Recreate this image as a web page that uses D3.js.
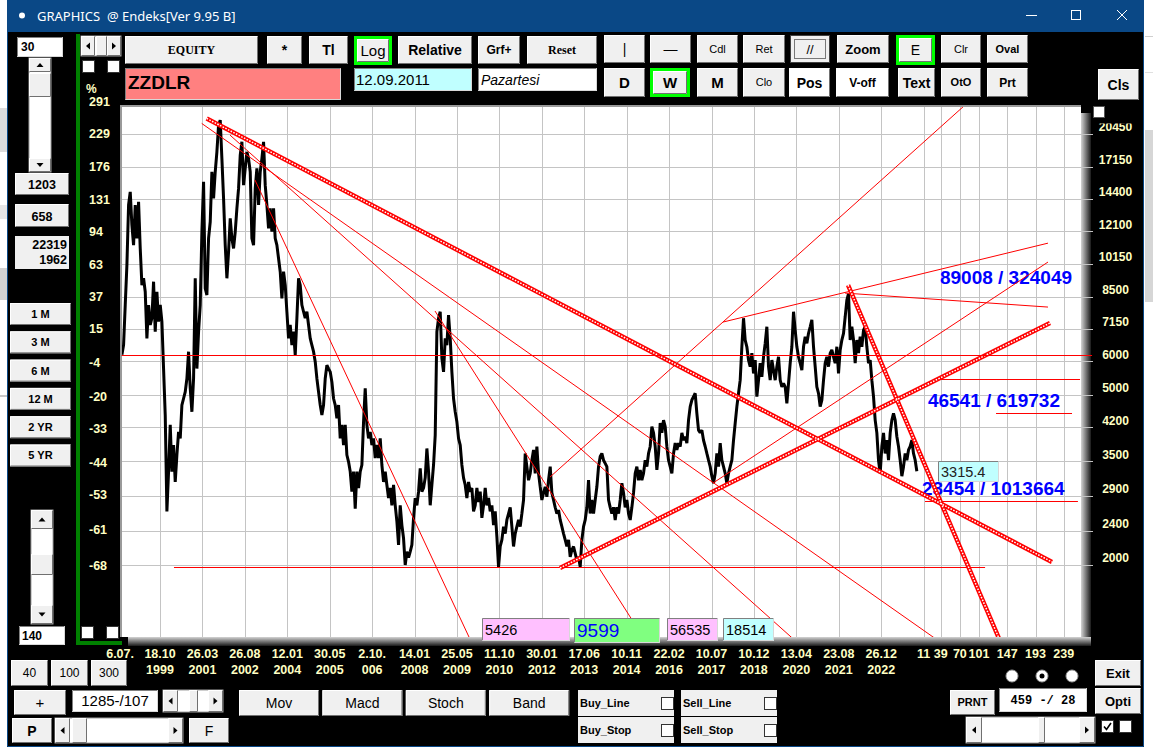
<!DOCTYPE html>
<html>
<head>
<meta charset="utf-8">
<title>ZZDLR</title>
<script src="https://cdn.jsdelivr.net/npm/d3@7/dist/d3.min.js"></script>
<style>
  html, body { margin: 0; padding: 0; background: #fff; overflow: hidden; }
  svg { display: block; }
</style>
</head>
<body>
<div id="chart"></div>
<script>
// values
const symbol = 'ZZDLR';
const basePrice = 6220; // 0 % of the relative axis
const priceTicks = [20450, 17150, 14400, 12100, 10150, 8500, 7150, 6000, 5000, 4200, 3500, 2900, 2400, 2000];
const pctTicks = [291, 229, 176, 131, 94, 63, 37, 15, -4, -20, -33, -44, -53, -61, -68];
const dateDays = ['6.07.', '18.10', '26.03', '26.08', '12.01', '30.05', '2.10.', '14.01', '25.05', '11.10',
  '30.01', '17.06', '10.11', '22.02', '10.07', '10.12', '13.04', '23.08', '26.12'];
const dateYears = ['', '1999', '2001', '2002', '2004', '2005', '006', '2008', '2009', '2010',
  '2012', '2013', '2014', '2016', '2017', '2018', '2020', '2021', '2022'];
const barsPerLabel = 69;
const futureBars = [11, 39, 70, 101, 147, 193, 239];
const firstBar = 7, lastBar = 1300;
const closeSamples = [
  6220, 6550, 8130, 10080, 13940, 14970, 12510, 11230, 13940, 11640, 14190, 11030, 9050, 9390, 8730, 6790,
  8130, 7300, 7570, 9220, 7040, 8730, 7430, 8130, 7430, 5770, 4490, 2670, 3310, 4260, 3310, 3820,
  3130, 3620, 4100, 3960, 4740, 4910, 5090, 5470, 6320, 5190, 4570, 5470, 9390, 5770, 7040, 8130,
  12070, 15810, 8890, 8580, 11640, 12740, 16680, 14450, 16680, 18580, 21450, 22040, 17910, 14450, 11230, 9390,
  10830, 12970, 11640, 11030, 12070, 13690, 15250, 18250, 19610, 15520, 16990, 18580, 17910, 16680, 11640, 11230,
  15250, 16990, 13940, 16680, 17910, 19610, 15520, 13940, 12290, 13690, 12070, 13690, 11640, 11230, 10450, 9730,
  8420, 9730, 9050, 7840, 6790, 7300, 6550, 7040, 6210, 7570, 9390, 9050, 8130, 7840, 7570, 7840,
  7300, 6790, 6550, 6320, 5990, 5470, 5090, 4740, 4490, 4740, 5470, 5880, 5770, 5670, 5370, 4910,
  4740, 4410, 4740, 3960, 4260, 3820, 4260, 3620, 3490, 3310, 2970, 3310, 2710, 3310, 3030, 3310,
  3430, 4330, 5190, 4260, 3960, 4100, 3820, 3960, 3560, 3820, 3560, 3960, 3430, 3130, 3310, 3080,
  2870, 3030, 2760, 3080, 2760, 2530, 2230, 2760, 2480, 2310, 2000, 2150, 2080, 2150, 2230, 2580,
  2870, 2760, 2970, 3370, 2970, 3030, 3200, 3750, 3310, 2760, 3080, 3430, 4030, 7040, 7570, 7840,
  6100, 5670, 6790, 6550, 7700, 6790, 5670, 4910, 4570, 4330, 3960, 3820, 3430, 3200, 3080, 2870,
  3130, 2970, 3030, 2670, 2760, 3030, 2810, 2970, 2580, 2760, 3030, 2760, 2870, 2670, 2760, 2480,
  2670,
  2330, 1980, 2210, 2290, 2460, 2370, 2550, 2640, 2730, 2460, 2210, 2370, 2460, 2550, 2460, 2640,
  2840, 3650, 3400, 3160, 3280, 3520, 3720, 3280, 3790, 3280, 3050, 2840, 2950, 3050, 2890, 3160,
  3400, 2950, 2840, 2730, 2640, 2690, 2550, 2460, 2370, 2290, 2210, 2290, 2090, 2170, 2210, 2130,
  2050, 2090, 1980, 2290, 2460, 2550, 2730, 3160, 2640, 2840, 2640, 2840, 3050, 3400, 3590, 3650,
  3520, 3460, 3400, 2840, 2730, 2640, 2730, 2550, 2730, 2640, 2840, 3110, 2950, 2730, 2840, 2640,
  2550, 2730, 2950, 3280, 3400, 3160, 3340, 3160, 3280, 3520, 3400, 3650, 3790, 4220, 4080, 3790,
  3340, 3650, 4300, 4080, 4370, 4220, 3790, 3520, 3400, 3280, 3650, 3860, 3720, 3860, 3790, 4080,
  3920, 4000, 3860, 4370, 4700, 4870, 4960, 5050, 4530, 4140, 4080, 4140, 3920, 3790, 3650, 3520,
  3400, 3230, 3110, 3280, 3650, 3400, 3860, 3520, 3400, 3280, 3110, 3280, 3400, 3520, 3920, 4300,
  4700, 5050, 5420, 6490, 7570, 6730, 6490, 6040, 5830, 6270, 5620, 6040, 4960, 5420, 5940, 5520,
  6150, 6610, 7230, 5830, 5420, 6040, 5720, 5420, 5830, 6150, 5420, 5230, 5330, 5230, 4780, 5330,
  5940, 6490, 7840, 7100, 6490, 6150, 5940, 5720, 6490, 6850, 6610, 6980, 7230, 7500, 6490, 5830,
  5230, 5050, 4700, 4870, 5420, 5940, 6150, 5830, 6270, 6380, 6150, 5940, 6490, 5620, 6380, 6730,
  6980, 7630, 8350, 8650, 6730, 7230, 6730, 5940, 6730, 6270, 6850, 6490, 7100, 7230, 6490, 5940,
  6040, 5420, 4960, 4370, 4080, 3520, 3280, 3790, 4080, 3650, 3920, 3520, 4080, 4370, 4530, 4370,
  4000, 3790, 3520, 3230, 3400, 3650, 3520, 3720, 3790, 3920, 3650, 3520, 3315
];
// [fromBar, fromPrice, toBar, toPrice]
const thinLines = [
  [136.8, 21650, 1337.7, 1321],
  [182.8, 20330, 1110, 1299],
  [223.5, 15950, 571.6, 1356],
  [516.3, 7870, 854.6, 1356],
  [703.3, 3214, 1378.3, 23900],
  [968.5, 3112, 1513.3, 10250],
  [984.8, 7416, 1513.3, 11350],
  [1183.2, 8670, 1513.3, 8040]
];
const doubleLines = [
  [144.9, 22240, 1519.8, 2033],
  [1188.1, 9050, 1435.4, 1327],
  [719.6, 1968, 1516.6, 7376]
];
// [fromBar, toBar, price]
const levelLines = [
  [0, 1585, basePrice],
  [91.7, 1411, 1980],
  [1329.5, 1565.4, 5440],
  [1428.8, 1552.4, 4530],
  [1313.3, 1562, 2830]
];
// [bar, price, text]
const notes = [
  [1337.6, 9100, '89008 / 324049'],
  [1318, 4690, '46541 / 619732'],
  [1308.3, 2918, '23454 / 1013664']
];
const infoValues = ['5426', '9599', '56535', '18514'];
const lastValue = '3315.4';

const W = 1153, H = 755;
const SANS = 'Liberation Sans, Arial, sans-serif';
const SERIF = 'Liberation Serif, Times New Roman, serif';
const CREAM = '#ffffc4';

const svg = d3.select('#chart').append('svg').attr('width', W).attr('height', H);
const defs = svg.append('defs');

// scales
const x = d3.scaleLinear().domain([0, 1567]).range([117.6, 1081]);
const y = d3.scaleLog().domain([2000, 20450]).range([565, 134]);
const plot = { left: 122, top: 107, right: 1081, bottom: 637 };

// desktop behind the window
svg.append('rect').attr('width', W).attr('height', H).attr('fill', '#ffffff');
[[0, 108, 7, 44, '#dcdcdc'], [0, 205, 7, 14, '#e6e6e6'], [0, 268, 7, 32, '#d2d2d2'], [0, 395, 7, 2, '#c8c8c8'],
 [1145, 130, 8, 172, '#d6d6d6'], [1145, 36, 8, 1, '#cfcfcf'], [1145, 72, 8, 1, '#e0e0e0']]
  .forEach(r => svg.append('rect').attr('x', r[0]).attr('y', r[1]).attr('width', r[2]).attr('height', r[3]).attr('fill', r[4]));

// window
svg.append('rect').attr('x', 7).attr('y', 0).attr('width', 1137).attr('height', 32).attr('fill', '#0a4886');
svg.append('rect').attr('x', 7).attr('y', 32).attr('width', 1137).attr('height', 715).attr('fill', '#000');
svg.append('path').attr('d', 'M7.5,32V746.5H1143.5V32').attr('fill', 'none').attr('stroke', '#0a4886');
svg.append('circle').attr('cx', 22).attr('cy', 15.5).attr('r', 3).attr('fill', '#fff');
svg.append('text').attr('x', 37).attr('y', 21).attr('font-family', 'Noto Sans, DejaVu Sans, sans-serif')
  .attr('font-size', 13).attr('fill', '#fff').text('GRAPHICS\u00a0\u00a0@ Endeks[Ver 9.95 B]');
svg.append('path').attr('d', 'M1026,15.5H1037').attr('stroke', '#fff');
svg.append('rect').attr('x', 1071.5).attr('y', 10.5).attr('width', 9).attr('height', 9).attr('fill', 'none').attr('stroke', '#fff');
svg.append('path').attr('d', 'M1117,10L1127,20M1127,10L1117,20').attr('stroke', '#fff');

let ui = svg.append('g');

function rect(x0, y0, w, h, fill, stroke) {
  const r = ui.append('rect').attr('x', x0).attr('y', y0).attr('width', w).attr('height', h).attr('fill', fill);
  if (stroke) r.attr('stroke', stroke);
  return r;
}
function txt(x0, y0, s, o = {}) {
  return ui.append('text').attr('x', x0).attr('y', y0)
    .attr('text-anchor', o.anchor || 'middle')
    .attr('font-family', o.family || SANS)
    .attr('font-size', o.size || 12)
    .attr('font-weight', o.weight || 'normal')
    .attr('font-style', o.style || 'normal')
    .attr('fill', o.color || '#000')
    .text(s);
}
function raised(x0, y0, w, h, fill) {
  rect(x0, y0, w, h, fill || '#f0f0f0');
  ui.append('path').attr('d', `M${x0 + .5},${y0 + h - 1}V${y0 + .5}H${x0 + w - 1}`).attr('fill', 'none').attr('stroke', '#fff');
  ui.append('path').attr('d', `M${x0 + .5},${y0 + h - .5}H${x0 + w - .5}V${y0 + .5}`).attr('fill', 'none').attr('stroke', '#707070');
}
function sunken(x0, y0, w, h, fill) {
  rect(x0, y0, w, h, fill);
  ui.append('path').attr('d', `M${x0 + .5},${y0 + h - .5}V${y0 + .5}H${x0 + w - .5}`).attr('fill', 'none').attr('stroke', '#808080');
  ui.append('path').attr('d', `M${x0 + .5},${y0 + h - .5}H${x0 + w - .5}V${y0 + .5}`).attr('fill', 'none').attr('stroke', '#d8d8d8');
}
function button(x0, y0, w, h, s, o = {}) {
  if (o.green) {
    rect(x0, y0, w, h, '#00ff00');
    raised(x0 + 3, y0 + 3, w - 6, h - 6, o.fill);
  } else raised(x0, y0, w, h, o.fill);
  const size = o.size || 12;
  txt(x0 + w / 2, y0 + h / 2 + size * 0.36, s, o);
}
function checkbox(x0, y0, on) {
  rect(x0 + .5, y0 + .5, 12, 12, '#fff', '#333');
  if (on) ui.append('path').attr('d', `M${x0 + 3},${y0 + 6.5}l2.5,3l4.5,-6.5`)
    .attr('fill', 'none').attr('stroke', '#000').attr('stroke-width', 1.6);
}
function tri(cx, cy, dir) {
  const d = {
    up: `M${cx - 3.5},${cy + 2}H${cx + 3.5}L${cx},${cy - 2}Z`,
    down: `M${cx - 3.5},${cy - 2}H${cx + 3.5}L${cx},${cy + 2}Z`,
    left: `M${cx + 2},${cy - 3.5}V${cy + 3.5}L${cx - 2},${cy}Z`,
    right: `M${cx - 2},${cy - 3.5}V${cy + 3.5}L${cx + 2},${cy}Z`
  }[dir];
  ui.append('path').attr('d', d).attr('fill', '#000');
}
function vscroll(x0, y0, w, h, btn, ty, th) {
  rect(x0, y0, w, h, '#fff', '#a0a0a0');
  raised(x0, y0, w, btn); tri(x0 + w / 2, y0 + btn / 2, 'up');
  raised(x0, ty, w, th);
  raised(x0, y0 + h - btn, w, btn); tri(x0 + w / 2, y0 + h - btn / 2, 'down');
}
function hscroll(x0, y0, w, h, btn, tx, tw) {
  rect(x0, y0, w, h, '#fff', '#a0a0a0');
  raised(x0, y0, btn, h); tri(x0 + btn / 2, y0 + h / 2, 'left');
  raised(tx, y0, tw, h);
  raised(x0 + w - btn, y0, btn, h); tri(x0 + w - btn / 2, y0 + h / 2, 'right');
}

// ---- top toolbar ----
hscroll(81, 36, 40, 20, 14, 96, 11);
checkbox(82, 60, false);
checkbox(107, 60, false);
button(125, 36, 133, 28, 'EQUITY', { family: SERIF, weight: 'bold', size: 12 });
button(267, 36, 35, 28, '*', { weight: 'bold', size: 14 });
button(309, 36, 39, 28, 'Tl', { weight: 'bold', size: 14 });
button(354, 36, 38, 29, 'Log', { green: true, size: 15 });
button(398, 36, 74, 28, 'Relative', { weight: 'bold', size: 14 });
button(478, 36, 42, 28, 'Grf+', { weight: 'bold', size: 12 });
button(527, 36, 70, 28, 'Reset', { family: SERIF, weight: 'bold', size: 12 });
button(604, 35, 41, 28, '|', { size: 14 });
button(650, 35, 41, 28, '\u2014', { size: 14 });
button(697, 35, 41, 28, 'Cdl', { size: 11 });
button(743, 35, 42, 28, 'Ret', { size: 11 });
button(790, 35, 40, 28, '//', { size: 13 });
ui.append('rect').attr('x', 790.5).attr('y', 35.5).attr('width', 39).attr('height', 27).attr('fill', 'none').attr('stroke', '#404040');
ui.append('rect').attr('x', 794.5).attr('y', 39.5).attr('width', 31).attr('height', 19).attr('fill', 'none')
  .attr('stroke', '#000').attr('stroke-dasharray', '1,1');
button(837, 35, 52, 28, 'Zoom', { weight: 'bold', size: 13 });
button(896, 35, 39, 30, 'E', { green: true, size: 14 });
button(941, 35, 40, 28, 'Clr', { size: 11 });
button(987, 35, 41, 28, 'Oval', { weight: 'bold', size: 11 });

sunken(125, 68, 216, 32, '#ff8080');
txt(128, 89, symbol, { anchor: 'start', weight: 'bold', size: 19 });
sunken(354, 68, 118, 23, '#c0ffff');
txt(356, 85, '12.09.2011', { anchor: 'start', size: 15 });
sunken(478, 68, 119, 23, '#ffffff');
txt(481, 85, 'Pazartesi', { anchor: 'start', style: 'italic', size: 14 });
button(604, 68, 41, 29, 'D', { weight: 'bold', size: 15 });
button(650, 68, 40, 29, 'W', { green: true, weight: 'bold', size: 15 });
button(697, 68, 41, 29, 'M', { weight: 'bold', size: 15 });
button(743, 68, 42, 29, 'Clo', { size: 11 });
button(789, 68, 41, 29, 'Pos', { fill: '#ffffff', weight: 'bold', size: 14 });
button(836, 68, 53, 29, 'V-off', { fill: '#ffffff', weight: 'bold', size: 12 });
button(898, 68, 37, 29, 'Text', { weight: 'bold', size: 14 });
button(941, 68, 40, 29, 'OtO', { weight: 'bold', size: 11 });
button(987, 68, 41, 29, 'Prt', { weight: 'bold', size: 12 });
button(1098, 69, 41, 31, 'Cls', { weight: 'bold', size: 14 });

// ---- left panel ----
sunken(17, 37, 46, 20, '#ffffff');
txt(21, 51, '30', { anchor: 'start', weight: 'bold', size: 12 });
vscroll(29, 58, 22, 114, 14, 73, 24);
raised(15, 173, 54, 22);
txt(42, 189, '1203', { weight: 'bold', size: 12.5 });
raised(15, 204, 54, 23);
txt(42, 221, '658', { weight: 'bold', size: 12.5 });
rect(15, 236, 54, 33, '#f0f0f0');
txt(67, 249, '22319', { anchor: 'end', weight: 'bold', size: 12.5 });
txt(67, 264, '1962', { anchor: 'end', weight: 'bold', size: 12.5 });
['1 M', '3 M', '6 M', '12 M', '2 YR', '5 YR'].forEach((s, i) =>
  button(10, 303 + i * 28.3, 61, 22, s, { weight: 'bold', size: 11 }));
vscroll(31, 510, 22, 114, 19, 554, 21);
sunken(19, 626, 46, 19, '#ffffff');
txt(22, 640, '140', { anchor: 'start', weight: 'bold', size: 12 });

// green frame
rect(76, 34, 4, 611, '#008000');
rect(76, 641, 46, 4, '#008000');
checkbox(81, 626, false);
checkbox(106, 626, false);

// ---- plot frame ----
const grR = defs.append('linearGradient').attr('id', 'shR').attr('x1', 0).attr('x2', 1).attr('y1', 0).attr('y2', 0);
grR.append('stop').attr('offset', 0).attr('stop-color', '#d4d4d4');
grR.append('stop').attr('offset', 1).attr('stop-color', '#1a1a1a');
const grB = defs.append('linearGradient').attr('id', 'shB').attr('x1', 0).attr('x2', 0).attr('y1', 0).attr('y2', 1);
grB.append('stop').attr('offset', 0).attr('stop-color', '#d4d4d4');
grB.append('stop').attr('offset', 1).attr('stop-color', '#1a1a1a');
svg.append('rect').attr('x', plot.right).attr('y', 113).attr('width', 10).attr('height', 533).attr('fill', 'url(#shR)');
svg.append('rect').attr('x', 128).attr('y', plot.bottom).attr('width', 963).attr('height', 9).attr('fill', 'url(#shB)');
svg.append('rect').attr('x', plot.left).attr('y', plot.top).attr('width', plot.right - plot.left)
  .attr('height', plot.bottom - plot.top).attr('fill', '#fff');
svg.append('rect').attr('x', 120).attr('y', 105).attr('width', plot.right - 120).attr('height', 2).attr('fill', '#9a9a9a');
svg.append('rect').attr('x', 120).attr('y', 105).attr('width', 2).attr('height', plot.bottom - 105).attr('fill', '#9a9a9a');

defs.append('clipPath').attr('id', 'plotClip').append('rect')
  .attr('x', plot.left).attr('y', plot.top).attr('width', plot.right - plot.left).attr('height', plot.bottom - plot.top);
defs.append('clipPath').attr('id', 'rightClip').append('rect')
  .attr('x', 1090).attr('y', 123.5).attr('width', 55).attr('height', 520);

// grid
const gridBars = dateDays.map((d, i) => i * barsPerLabel).slice(1).concat(futureBars.map(b => lastBar + b));
svg.append('g').selectAll('line').data(gridBars).join('line')
  .attr('x1', d => Math.round(x(d)) + .5).attr('x2', d => Math.round(x(d)) + .5)
  .attr('y1', plot.top).attr('y2', plot.bottom).attr('stroke', '#c4c4c4');
svg.append('g').selectAll('line').data(priceTicks).join('line')
  .attr('x1', plot.left).attr('x2', 1093)
  .attr('y1', d => Math.round(y(d)) + .5).attr('y2', d => Math.round(y(d)) + .5).attr('stroke', '#c4c4c4');

// axes labels
svg.append('text').attr('x', 86).attr('y', 93).attr('font-family', SANS).attr('font-size', 12)
  .attr('font-weight', 'bold').attr('fill', CREAM).text('%');
svg.append('g').selectAll('text').data(pctTicks).join('text')
  .attr('x', 89).attr('y', d => y(basePrice * (1 + d / 100)) + 4.5)
  .attr('font-family', SANS).attr('font-size', 12.5).attr('font-weight', 'bold').attr('fill', CREAM)
  .text(d => d);
svg.append('g').attr('clip-path', 'url(#rightClip)').selectAll('text').data(priceTicks).join('text')
  .attr('x', 1115.5).attr('y', d => y(d) - 2.7).attr('text-anchor', 'middle')
  .attr('font-family', SANS).attr('font-size', 12).attr('font-weight', 'bold').attr('fill', CREAM)
  .text(d => d);
const xl = svg.append('g').attr('font-family', SANS).attr('font-size', 12.5).attr('font-weight', 'bold')
  .attr('fill', CREAM).attr('text-anchor', 'middle');
xl.selectAll('text.d').data(dateDays).join('text').attr('class', 'd')
  .attr('x', (d, i) => x(i * barsPerLabel) + (i === 0 ? 2.5 : 0)).attr('y', 658).text(d => d);
xl.selectAll('text.yr').data(dateYears).join('text').attr('class', 'yr')
  .attr('x', (d, i) => x(i * barsPerLabel)).attr('y', 674).text(d => d);
xl.selectAll('text.f').data(futureBars).join('text').attr('class', 'f')
  .attr('x', d => x(lastBar + d)).attr('y', 658).text(d => d);
svg.append('rect').attr('x', 1093.5).attr('y', 106.5).attr('width', 11).attr('height', 11)
  .attr('fill', '#fff').attr('stroke', '#555');

// ---- chart content ----
const chart = svg.append('g').attr('clip-path', 'url(#plotClip)');
chart.selectAll('line.lvl').data(levelLines.slice(1)).join('line').attr('class', 'lvl')
  .attr('x1', d => x(d[0])).attr('x2', d => x(d[1]))
  .attr('y1', d => Math.round(y(d[2])) + .5).attr('y2', d => Math.round(y(d[2])) + .5)
  .attr('stroke', '#ff0000');
// zero line runs into the frame shadow
svg.append('line').attr('x1', x(levelLines[0][0]) + 4).attr('x2', x(levelLines[0][1]))
  .attr('y1', Math.round(y(levelLines[0][2])) + .5).attr('y2', Math.round(y(levelLines[0][2])) + .5)
  .attr('stroke', '#ff0000');

const step = (lastBar - firstBar) / (closeSamples.length - 1);
const line = d3.line().x((d, i) => x(firstBar + i * step)).y(d => y(d));
chart.append('path').datum(closeSamples).attr('d', line).attr('fill', 'none')
  .attr('stroke', '#000').attr('stroke-width', 3).attr('stroke-linejoin', 'bevel');

chart.selectAll('text.note').data(notes).join('text').attr('class', 'note')
  .attr('x', d => x(d[0])).attr('y', d => y(d[1]))
  .attr('font-family', SANS).attr('font-size', 19).attr('font-weight', 'bold').attr('fill', '#0000ff')
  .text(d => d[2]);

chart.selectAll('line.thin').data(thinLines).join('line').attr('class', 'thin')
  .attr('x1', d => x(d[0])).attr('y1', d => y(d[1])).attr('x2', d => x(d[2])).attr('y2', d => y(d[3]))
  .attr('stroke', '#ff0000').attr('stroke-width', 1);
chart.selectAll('line.dbl').data(doubleLines).join('line').attr('class', 'dbl')
  .attr('x1', d => x(d[0])).attr('y1', d => y(d[1])).attr('x2', d => x(d[2])).attr('y2', d => y(d[3]))
  .attr('stroke', '#ff0000').attr('stroke-width', 4.5);
chart.selectAll('line.dblin').data(doubleLines).join('line').attr('class', 'dblin')
  .attr('x1', d => x(d[0])).attr('y1', d => y(d[1])).attr('x2', d => x(d[2])).attr('y2', d => y(d[3]))
  .attr('stroke', '#ffffff').attr('stroke-width', 1.5).attr('stroke-dasharray', '1.6,1.4');

// value boxes sit on top of the plot
ui = svg.append('g');
sunken(938, 461, 61, 21, '#c0ffff');
txt(941, 477, lastValue, { anchor: 'start', size: 14.5, color: '#202020' });
const infoBoxes = [[482, 88, '#ffc0ff', '#000', 14.5], [574, 86, '#80ff80', '#0000ff', 19],
  [667, 51, '#ffc0ff', '#000', 14.5], [723, 51, '#c0ffff', '#000', 14.5]];
infoValues.forEach((v, i) => {
  const b = infoBoxes[i];
  sunken(b[0], 618, b[1], i === 1 ? 25 : 23, b[2]);
  txt(b[0] + 3, i === 1 ? 637 : 635, v, { anchor: 'start', size: b[4], color: b[3] });
});

// ---- bottom controls ----
button(11, 660, 37, 26, '40', { size: 12 });
button(51, 660, 37, 26, '100', { size: 12 });
button(91, 660, 36, 26, '300', { size: 12 });
button(14, 690, 52, 25, '+', { size: 15 });
sunken(72, 690, 86, 22, '#ffffff');
txt(115, 706, '1285-/107', { size: 15 });
hscroll(163, 690, 60, 22, 15, 189, 9);
button(12, 718, 40, 25, 'P', { weight: 'bold', size: 14 });
hscroll(55, 718, 128, 25, 15, 72, 15);
button(189, 718, 40, 25, 'F', { size: 14 });
['Mov', 'Macd', 'Stoch', 'Band'].forEach((s, i) =>
  button(239 + i * 83.4, 690, 80, 26, s, { size: 14 }));
[['Buy_Line', 578, 690], ['Sell_Line', 681, 690], ['Buy_Stop', 578, 717], ['Sell_Stop', 681, 717]].forEach(d => {
  rect(d[1], d[2], 96, 26, '#f0f0f0');
  txt(d[1] + 2, d[2] + 17, d[0], { anchor: 'start', weight: 'bold', size: 11 });
  checkbox(d[1] + 83, d[2] + 7, false);
});
[1012, 1042, 1072].forEach((cx, i) => {
  ui.append('circle').attr('cx', cx).attr('cy', 676).attr('r', 6).attr('fill', '#fff').attr('stroke', '#9a9a9a');
  if (i === 1) ui.append('circle').attr('cx', cx).attr('cy', 676).attr('r', 2.5).attr('fill', '#000');
});
button(950, 690, 45, 25, 'PRNT', { weight: 'bold', size: 11 });
sunken(999, 688, 88, 24, '#ffffff');
txt(1043, 704, '459 -/ 28', { family: 'Liberation Mono, Courier New, monospace', weight: 'bold', size: 12 });
button(1095, 660, 46, 26, 'Exit', { weight: 'bold', size: 13 });
button(1095, 688, 46, 26, 'Opti', { weight: 'bold', size: 13 });
hscroll(966, 717, 129, 26, 16, 1038, 7);
checkbox(1101, 720, true);
checkbox(1119, 720, false);
</script>
</body>
</html>
